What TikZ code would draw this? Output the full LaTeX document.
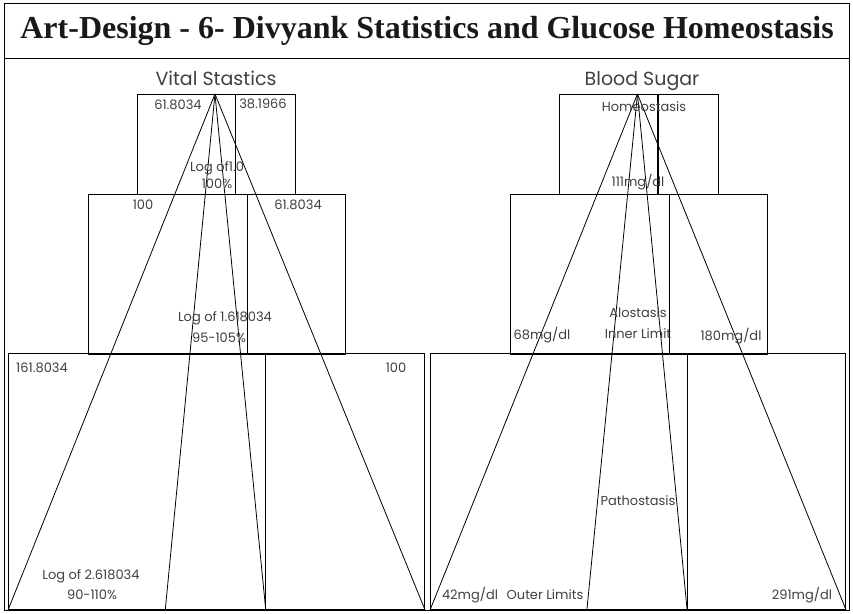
\documentclass[tikz,border=0pt]{standalone}
\usepackage{fontspec}
\setmainfont{Liberation Serif}
\newfontfamily\gothic{Poppins}
\usetikzlibrary{positioning,calc}

\begin{document}
\begin{tikzpicture}[
    x=1pt, y=-1pt,
    font=\gothic\fontsize{13}{15}\selectfont,
    box/.style={draw, line width=1.1pt, rectangle, inner sep=0pt, anchor=north west},
    lbl/.style={text=black!75, inner sep=1pt},
    ray/.style={draw, line width=0.8pt}
]
\useasboundingbox (0,0) rectangle (853,613);

% frame and title band
\node[box, minimum width=845pt, minimum height=607pt] (frame) at (4,3) {};
\node[box, minimum width=845pt, minimum height=55pt] (band) at (4,3) {};
\node[font=\fontsize{32}{34}\selectfont\bfseries, text=black!90] (title) at (band.center) {Art-Design - 6- Divyank Statistics and Glucose Homeostasis};

% Vital Stastics
\node[box, minimum width=158pt, minimum height=100pt] (vtop) at (137,94) {};
\node[box, minimum width=257pt, minimum height=160pt] (vmid) at (88,194) {};
\node[box, minimum width=416pt, minimum height=256pt] (vbot) at (8,353) {};

% Blood Sugar
\node[box, minimum width=159pt, minimum height=100pt] (btop) at (559,94) {};
\node[box, minimum width=257pt, minimum height=160pt] (bmid) at (510,194) {};
\node[box, minimum width=415pt, minimum height=256pt] (bbot) at (430,353) {};

% golden dividers
\foreach \b in {vtop,vmid,vbot,btop,bmid,bbot}
  \draw[line width=1.1pt] ($(\b.north west)!0.618!(\b.north east)$) -- ($(\b.south west)!0.618!(\b.south east)$);

% apex and foot points
\coordinate (vapex) at ($(vtop.north west)!0.49!(vtop.north east)$);
\coordinate (bapex) at ($(btop.north west)!0.49!(btop.north east)$);
\foreach \p/\n in {0/a,0.377/b,0.618/c,1/d} {
  \coordinate (vfoot\n) at ($(vbot.south west)!\p!(vbot.south east)$);
  \coordinate (bfoot\n) at ($(bbot.south west)!\p!(bbot.south east)$);
}

% rays
\foreach \n in {a,b,c,d} {
  \draw[ray] (vapex) -- (vfoot\n);
  \draw[ray] (bapex) -- (bfoot\n);
}

% headings
\node[lbl, anchor=base, font=\gothic\fontsize{19}{21}\selectfont] (vhead) at (216,85) {Vital Stastics};
\node[lbl, anchor=base, font=\gothic\fontsize{19}{21}\selectfont] (bhead) at (642,85) {Blood Sugar};

% left labels
\node[lbl] (v1) at (178,105) {61.8034};
\node[lbl] (v2) at (263,104) {38.1966};
\node[lbl] (v3) at (217,168) {Log of1.0};
\node[lbl] (v4) at (217,184) {100\%};
\node[lbl] (v5) at (143,205) {100};
\node[lbl] (v6) at (298,205) {61.8034};
\node[lbl] (v7) at (225,318) {Log of 1.618034};
\node[lbl] (v8) at (219,338) {95-105\%};
\node[lbl] (v9) at (42,368) {161.8034};
\node[lbl] (v10) at (396,368) {100};
\node[lbl] (v11) at (91,576) {Log of 2.618034};
\node[lbl] (v12) at (92,595) {90-110\%};

% right labels
\node[lbl] (b1) at (644,107) {Homeostasis};
\node[lbl] (b2) at (638,182) {111mg/dl};
\node[lbl] (b3) at (638,313) {Alostasis};
\node[lbl] (b4) at (638,334) {Inner Limit};
\node[lbl] (b5) at (542,335) {68mg/dl};
\node[lbl] (b6) at (731,336) {180mg/dl};
\node[lbl] (b7) at (638,501) {Pathostasis};
\node[lbl] (b8) at (470,595) {42mg/dl};
\node[lbl] (b9) at (545,595) {Outer Limits};
\node[lbl] (b10) at (802,595) {291mg/dl};

\end{tikzpicture}
\end{document}
